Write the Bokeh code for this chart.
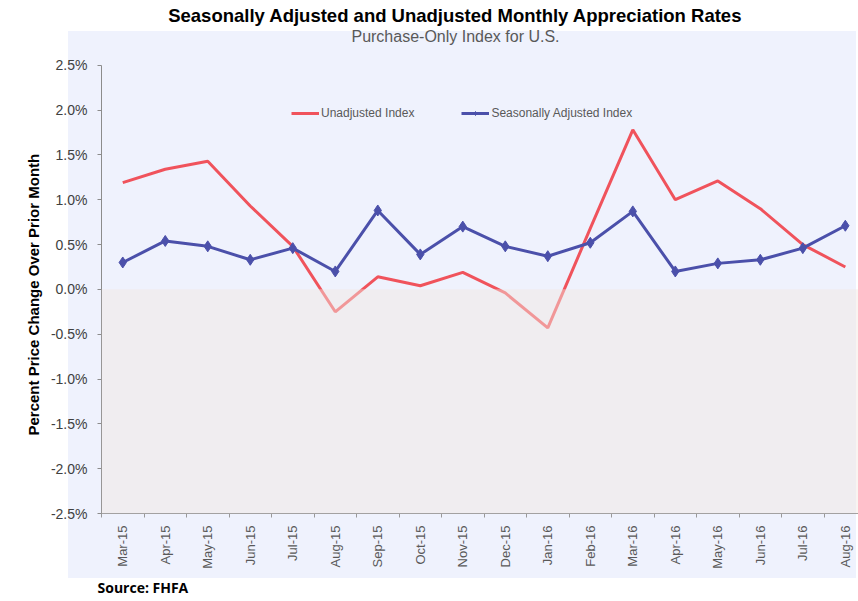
import math
from bokeh.plotting import figure
from bokeh.models import (ColumnDataSource, FixedTicker, PrintfTickFormatter, Range1d,
                          BoxAnnotation, Legend, LegendItem, Label, Title)
from bokeh.embed import file_html
from bokeh.resources import INLINE

months = ["Mar-15", "Apr-15", "May-15", "Jun-15", "Jul-15", "Aug-15", "Sep-15", "Oct-15",
          "Nov-15", "Dec-15", "Jan-16", "Feb-16", "Mar-16", "Apr-16", "May-16", "Jun-16",
          "Jul-16", "Aug-16"]
unadjusted = [1.19, 1.34, 1.43, 0.93, 0.48, -0.25, 0.14, 0.04, 0.19, -0.04, -0.43, 0.68,
              1.78, 1.00, 1.21, 0.90, 0.50, 0.25]
adjusted = [0.30, 0.54, 0.48, 0.33, 0.46, 0.20, 0.88, 0.39, 0.70, 0.48, 0.37, 0.52,
            0.87, 0.20, 0.29, 0.33, 0.46, 0.71]
y_ticks = [-2.5, -2.0, -1.5, -1.0, -0.5, 0.0, 0.5, 1.0, 1.5, 2.0, 2.5]

title_text = "Seasonally Adjusted and Unadjusted Monthly Appreciation Rates"
subtitle_text = "Purchase-Only Index for U.S."
source_text = "Source: FHFA"
y_title = "Percent Price Change Over Prior Month"

pos = list(range(len(months)))
src = ColumnDataSource(dict(x=pos, month=months, unadj=unadjusted, adj=adjusted))

RED = "#F0535C"
BLUE = "#4B50AA"
LAV = "#EFF2FD"

# frame spans from canvas top (0) down to the -2.5% line (515 px); 90 px per 1%
y_top = -2.5 + 515 / 90

p = figure(width=858, height=601, output_backend="svg", toolbar_location=None,
           title=None, x_range=Range1d(-0.5, 17.31), y_range=Range1d(-2.5, y_top),
           min_border_left=101, min_border_right=0, min_border_top=0, min_border_bottom=86)
p.border_fill_color = None
p.background_fill_color = None
p.outline_line_color = None
p.styles = {
    "background-color": "white",
    "background-image": f"linear-gradient({LAV}, {LAV})",
    "background-size": "788px 547px",
    "background-position": "68px 31px",
    "background-repeat": "no-repeat",
}
p.xgrid.visible = False
p.ygrid.visible = False

r_red = p.line("x", "unadj", source=src, line_color=RED, line_width=3)
r_blue = p.line("x", "adj", source=src, line_color=BLUE, line_width=3)
r_dia = p.scatter("x", "adj", source=src, marker="diamond", size=11, fill_color=BLUE,
                  line_color=BLUE)

# semi-transparent shading below zero (fades the line)
p.add_layout(BoxAnnotation(top=0, fill_color="#F1E7E1", fill_alpha=0.46, line_color=None))

# y axis
ya = p.yaxis[0]
ya.ticker = FixedTicker(ticks=y_ticks)
ya.bounds = (-2.5, 2.5)
ya.formatter = PrintfTickFormatter(format="%.1f%%")
ya.axis_line_color = "#8C8C8C"
ya.major_tick_line_color = "#8C8C8C"
ya.major_tick_out = 4
ya.major_tick_in = 0
ya.minor_tick_line_color = None
ya.major_label_text_font = "Liberation Sans"
ya.major_label_text_font_size = "14px"
ya.major_label_text_color = "#404040"
ya.major_label_standoff = 10

# y axis title as a left-side title, positioned along the -2.5%..2.5% span
p.add_layout(Title(text=y_title, align="left", offset=78, text_font="Liberation Sans",
                   text_font_size="15px", text_font_style="bold", text_color="black",
                   vertical_align="top", standoff=8), "left")

# x axis
xa = p.xaxis[0]
xa.ticker = FixedTicker(ticks=pos, minor_ticks=[i - 0.5 for i in range(len(months) + 1)])
xa.major_label_overrides = {i: m for i, m in enumerate(months)}
xa.axis_line_color = "#999999"
xa.major_tick_out = 0
xa.major_tick_in = 0
xa.minor_tick_out = 4
xa.minor_tick_in = 0
xa.minor_tick_line_color = "#999999"
xa.major_label_orientation = math.pi / 2
xa.major_label_text_font = "Liberation Sans"
xa.major_label_text_font_size = "13px"
xa.major_label_text_color = "#595959"
xa.major_label_standoff = 8

legend = Legend(items=[LegendItem(label="Unadjusted Index", renderers=[r_red]),
                       LegendItem(label="Seasonally Adjusted Index", renderers=[r_blue, r_dia])],
                orientation="horizontal", location=(190, 393),
                background_fill_alpha=0, border_line_alpha=0,
                label_text_font="Liberation Sans", label_text_font_size="12px",
                label_text_color="#595959", glyph_width=28, glyph_height=10,
                label_standoff=2, spacing=47, padding=0, margin=0)
p.add_layout(legend)

# titles, positioned in frame-relative screen pixels (frame left = 101, bottom = 515)
p.add_layout(Label(x=455 - 101, y=515 - 17, x_units="screen", y_units="screen", text=title_text,
                   text_align="center", text_baseline="middle", text_font="Liberation Sans",
                   text_font_size="18.5px", text_font_style="bold", text_color="black"))
p.add_layout(Label(x=455 - 101, y=515 - 38, x_units="screen", y_units="screen", text=subtitle_text,
                   text_align="center", text_baseline="middle", text_font="Liberation Sans",
                   text_font_size="16px", text_color="#595959"))

p.add_layout(Title(text=source_text, align="left", offset=-4, text_font="Open Sans",
                   text_font_size="14px", text_font_style="bold", text_color="black",
                   standoff=9), "below")

open("out.html", "w").write(file_html(p, INLINE))
